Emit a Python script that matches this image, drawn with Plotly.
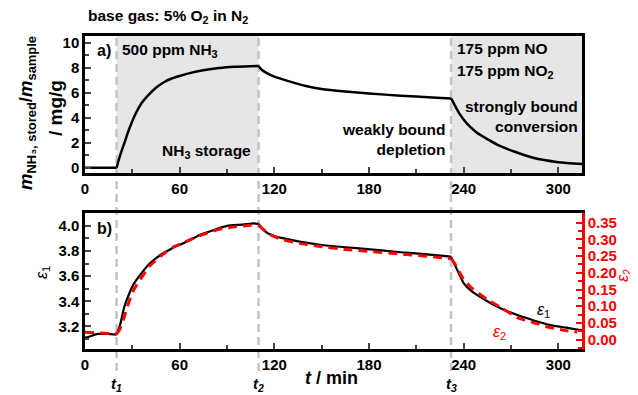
import plotly.graph_objects as go

# ---------------- data ----------------
t_a = [0, 20, 22, 25, 28, 32, 36, 40, 45, 50, 55, 60, 67, 75, 85, 95, 105, 110,
       112, 115, 120, 130, 140, 150, 165, 180, 200, 220, 232,
       234, 237, 242, 248, 255, 263, 272, 284, 300, 315]
m_a = [0, 0, 0.9, 2.0, 3.1, 4.3, 5.2, 5.8, 6.4, 6.85, 7.15, 7.35, 7.6, 7.8, 7.98, 8.08, 8.13, 8.15,
       7.85, 7.6, 7.3, 6.9, 6.55, 6.3, 6.1, 5.95, 5.77, 5.63, 5.55,
       5.1, 4.4, 3.55, 2.85, 2.3, 1.75, 1.3, 0.8, 0.45, 0.3]

t_b = [0, 3, 8, 14, 20, 22, 25, 28, 31, 35, 41, 48, 55, 60, 67, 73, 80, 90, 100, 107, 110,
       113, 116, 120, 126, 136, 149, 165, 179, 200, 215, 232,
       234, 237, 240, 245, 255, 264, 274, 285, 295, 305, 312, 315]
eps1 = [3.11, 3.12, 3.14, 3.14, 3.135, 3.2, 3.36, 3.46, 3.54, 3.61, 3.70, 3.77, 3.82, 3.85, 3.89, 3.93,
        3.96, 4.0, 4.01, 4.02, 4.015,
        3.97, 3.94, 3.92, 3.90, 3.875, 3.85, 3.83, 3.815, 3.79, 3.775, 3.755,
        3.70, 3.62, 3.545, 3.48, 3.40, 3.34, 3.29, 3.245, 3.21, 3.19, 3.175, 3.17]

t_c = [0, 10, 20, 22, 25, 28, 31, 35, 41, 48, 55, 60, 67, 75, 85, 95, 105, 110,
       113, 116, 120, 126, 136, 150, 165, 180, 200, 215, 232,
       234, 237, 240, 245, 255, 264, 274, 285, 295, 305, 312]
eps2 = [0.022, 0.02, 0.017, 0.03, 0.07, 0.115, 0.15, 0.18, 0.22, 0.25, 0.275, 0.285, 0.30, 0.315,
        0.33, 0.338, 0.342, 0.342,
        0.33, 0.318, 0.308, 0.298, 0.288, 0.278, 0.27, 0.264, 0.256, 0.25, 0.243,
        0.23, 0.205, 0.18, 0.155, 0.12, 0.095, 0.066, 0.05, 0.036, 0.027, 0.023]

t_marks = [20, 110, 232]
t_mark_labels = ["t<sub>1</sub>", "t<sub>2</sub>", "t<sub>3</sub>"]

x_ticks = [0, 60, 120, 180, 240, 300]

# ---------------- figure ----------------
FONT = "Liberation Sans"
RED = "#ff0000"
fig = go.Figure()


def segments(ts, vs):
    """Split a series at the switching times so each phase is smoothed on its own."""
    bounds = [ts[0]] + t_marks + [ts[-1]]
    out = []
    for a, b in zip(bounds[:-1], bounds[1:]):
        idx = [i for i, t in enumerate(ts) if a <= t <= b]
        out.append(([ts[i] for i in idx], [vs[i] for i in idx]))
    return out


def add_series(ts, vs, xa, ya, line):
    first = True
    for xs, ys in segments(ts, vs):
        fig.add_trace(go.Scatter(x=xs, y=ys, mode="lines", line=line, xaxis=xa, yaxis=ya,
                                 showlegend=False, hoverinfo="x+y"))


add_series(t_a, m_a, "x", "y", dict(color="black", width=2.5, shape="spline", smoothing=0.6))
add_series(t_b, eps1, "x2", "y3", dict(color="black", width=2.2, shape="spline", smoothing=0.5))
add_series(t_c, eps2, "x2", "y4", dict(color=RED, width=3, dash="9px,6px", shape="spline", smoothing=0.5))

tickf = dict(family=FONT, size=15, color="black", weight="bold")
common_x = dict(range=[0, 315], tickvals=x_ticks, ticks="inside", ticklen=6, tickwidth=2,
                showline=True, linecolor="black", linewidth=2.5, mirror=True, showgrid=False,
                zeroline=False, tickfont=tickf,
                minor=dict(ticks="inside", ticklen=4, tickwidth=1.5, dtick=30, tick0=0))

# the page has an 8px body margin; figure is sized to fill the rest of the window
W, H = 630, 387
fig.update_layout(
    width=W, height=H,
    margin=dict(l=77, r=56, t=28, b=46),
    paper_bgcolor="white", plot_bgcolor="rgba(0,0,0,0)",
    font=dict(family=FONT, color="black"),
    xaxis=dict(common_x, domain=[0, 1], anchor="y"),
    yaxis=dict(domain=[0.563, 1], range=[-0.4, 10.55], dtick=2, tick0=0, ticks="inside", ticklen=6, tickwidth=2,
               showline=True, linecolor="black", linewidth=2.5, mirror=True, showgrid=False, zeroline=False,
               tickfont=tickf, minor=dict(ticks="inside", ticklen=4, tickwidth=1.5, dtick=1, tick0=0)),
    xaxis2=dict(common_x, domain=[0, 1], anchor="y3"),
    yaxis3=dict(domain=[0, 0.4335], range=[3.02, 4.10], tickvals=[3.2, 3.4, 3.6, 3.8, 4.0], tickformat=".1f",
                ticks="inside", ticklen=6, tickwidth=2, showline=True, linecolor="black", linewidth=2.5,
                showgrid=False, zeroline=False, tickfont=tickf,
                minor=dict(ticks="inside", ticklen=4, tickwidth=1.5, dtick=0.1, tick0=3.0)),
    yaxis4=dict(overlaying="y3", side="right", anchor="x2", range=[-0.028, 0.378],
                tickvals=[0, 0.05, 0.1, 0.15, 0.2, 0.25, 0.3, 0.35], tickformat=".2f",
                ticks="inside", ticklen=6, tickwidth=2, tickcolor=RED, showline=True, linecolor=RED, linewidth=2.5,
                showgrid=False, zeroline=False, tickfont=dict(tickf, color=RED),
                minor=dict(ticks="inside", ticklen=4, tickwidth=1.5, tickcolor=RED, dtick=0.025, tick0=0)),
)

# shaded regions in panel a
for x0, x1 in [(t_marks[0], t_marks[1]), (t_marks[2], 315)]:
    fig.add_shape(type="rect", xref="x", yref="y domain", x0=x0, x1=x1, y0=0, y1=1,
                  fillcolor="#e6e6e6", line=dict(width=0), layer="below")

# vertical dashed lines through both panels
for tm in t_marks:
    fig.add_shape(type="line", xref="x", yref="paper", x0=tm, x1=tm, y0=-0.07, y1=1,
                  line=dict(color="#c4c4c4", width=2.5, dash="8px,5px"), layer="below")

ann = []
def A(text, x, y, size=15.5, color="black", xanchor="center", align="center", angle=0, weight="bold"):
    ann.append(dict(text=text, x=x, y=y, xref="paper", yref="paper", showarrow=False,
                    xanchor=xanchor, yanchor="middle", align=align, textangle=angle,
                    font=dict(family=FONT, size=size, color=color, weight=weight)))

def px(x, y):
    # screen pixel -> paper fraction (plot area spans x 85..582, y 36..349 on screen)
    return ((x - 85) / 497, (349 - y) / 313)

A("base gas: 5% O<sub>2</sub> in N<sub>2</sub>", *px(168, 16))
A("a)", *px(104, 50), size=16)
A("500 ppm NH<sub>3</sub>", *px(170, 51))
A("NH<sub>3</sub> storage", *px(206, 151))
A("175 ppm NO", *px(455, 48), xanchor="left")
A("175 ppm NO<sub>2</sub>", *px(455, 71), xanchor="left")
A("strongly bound<br>conversion", *px(580, 116), xanchor="right", align="right")
A("weakly bound<br>depletion", *px(448, 139), xanchor="right", align="right")
A("<i>m</i><sub>NH₃, stored</sub>/<i>m</i><sub>sample</sub>", *px(27, 113), size=18.5, angle=-90)
A("/ mg/g", *px(55, 108), size=19, angle=-90)

A("b)", *px(104, 228), size=16)
A("<i>ε</i><sub>1</sub>", *px(42, 273), size=16, angle=-90, weight="normal")
A("<i>ε</i><sub>2</sub>", *px(623, 276), size=16, angle=-90, color=RED, weight="normal")
A("<i>ε</i><sub>1</sub>", *px(543, 310), size=16, weight="normal")
A("<i>ε</i><sub>2</sub>", *px(499, 332), size=16, color=RED, weight="normal")
A("<i>t</i> / min", *px(331, 378), size=18)
for tm, lab in zip(t_marks, t_mark_labels):
    xp = 85 + tm * 497 / 315
    A("<i>" + lab + "</i>", *px(xp, 384), size=15)

fig.update_layout(annotations=ann)
fig.write_html("out.html")
